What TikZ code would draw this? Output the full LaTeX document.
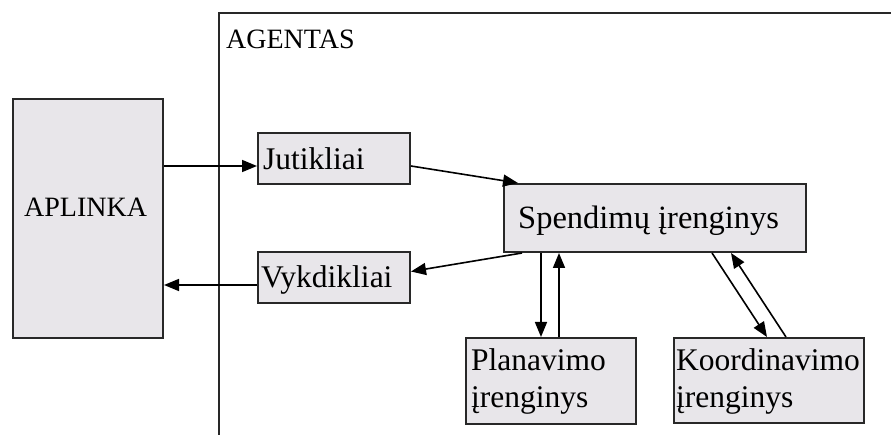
\documentclass[tikz,border=0pt]{standalone}
\usepackage{fontspec}
\setmainfont{Liberation Serif}
\usetikzlibrary{arrows.meta,calc}
\definecolor{boxfill}{RGB}{232,230,234}
\definecolor{edge}{RGB}{40,40,40}
\begin{document}
\begin{tikzpicture}[x=1pt,y=-1pt,
  box/.style={draw=edge,line width=2pt,fill=boxfill,rectangle,inner sep=0pt,anchor=north west},
  txt/.style={anchor=base west,inner sep=0pt,font=\fontsize{31.5}{37}\selectfont,align=left},
  arr/.style={draw=black,line width=1.6pt,-{Triangle[length=15pt,width=12pt]}}]
\useasboundingbox (0,0) rectangle (891,435);
% agent frame
\coordinate (fb) at (219,436);
\coordinate (ft) at (219,13);
\coordinate (fr) at (892,13);
\draw[edge,line width=2pt] (fb) -- (ft) -- (fr);
\node[txt,font=\fontsize{28}{34}\selectfont] (agtxt) at (226,49) {AGENTAS};
% boxes
\node[box,minimum width=150pt,minimum height=239pt] (apl) at (12,98) {};
\node[box,minimum width=152pt,minimum height=51pt] (jut) at (257,132) {};
\node[box,minimum width=152pt,minimum height=51pt] (vyk) at (257,251) {};
\node[box,minimum width=302pt,minimum height=68pt] (spe) at (503,183) {};
\node[box,minimum width=170pt,minimum height=86pt] (pla) at (465,337) {};
\node[box,minimum width=190pt,minimum height=85pt] (koo) at (673,337) {};
% texts
\node[txt,font=\fontsize{28}{34}\selectfont] (apltxt) at (24,217) {APLINKA};
\node[txt] (juttxt) at (263,170) {Jutikliai};
\node[txt] (vyktxt) at (261,288) {Vykdikliai};
\node[txt,font=\fontsize{32.5}{37}\selectfont] (spetxt) at (518,229) {Spendimų įrenginys};
\node[txt] (platxt) at (471,407) {Planavimo\\įrenginys};
\node[txt] (kootxt) at (676,407) {Koordinavimo\\įrenginys};
% connectors
\draw[arr] ([yshift=-7.5pt]apl.east |- jut.west) -- ([yshift=-7.5pt]jut.west);
\draw[arr] ([yshift=-7.5pt]vyk.west) -- ([yshift=-7.5pt]apl.east |- vyk.west);
\draw[arr] ([yshift=-7.5pt]jut.east) -- ([xshift=15pt]spe.north west);
\draw[arr] ([xshift=19pt]spe.south west) -- ([yshift=6pt]vyk.east);
\draw[arr] ([xshift=38pt]spe.south west) -- ([xshift=76pt]pla.north west);
\draw[arr] ([xshift=94pt]pla.north west) -- ([xshift=56pt]spe.south west);
\draw[arr] ([xshift=209pt]spe.south west) -- ([xshift=94pt]koo.north west);
\draw[arr] ([xshift=113pt]koo.north west) -- ([xshift=228pt]spe.south west);
\end{tikzpicture}
\end{document}
